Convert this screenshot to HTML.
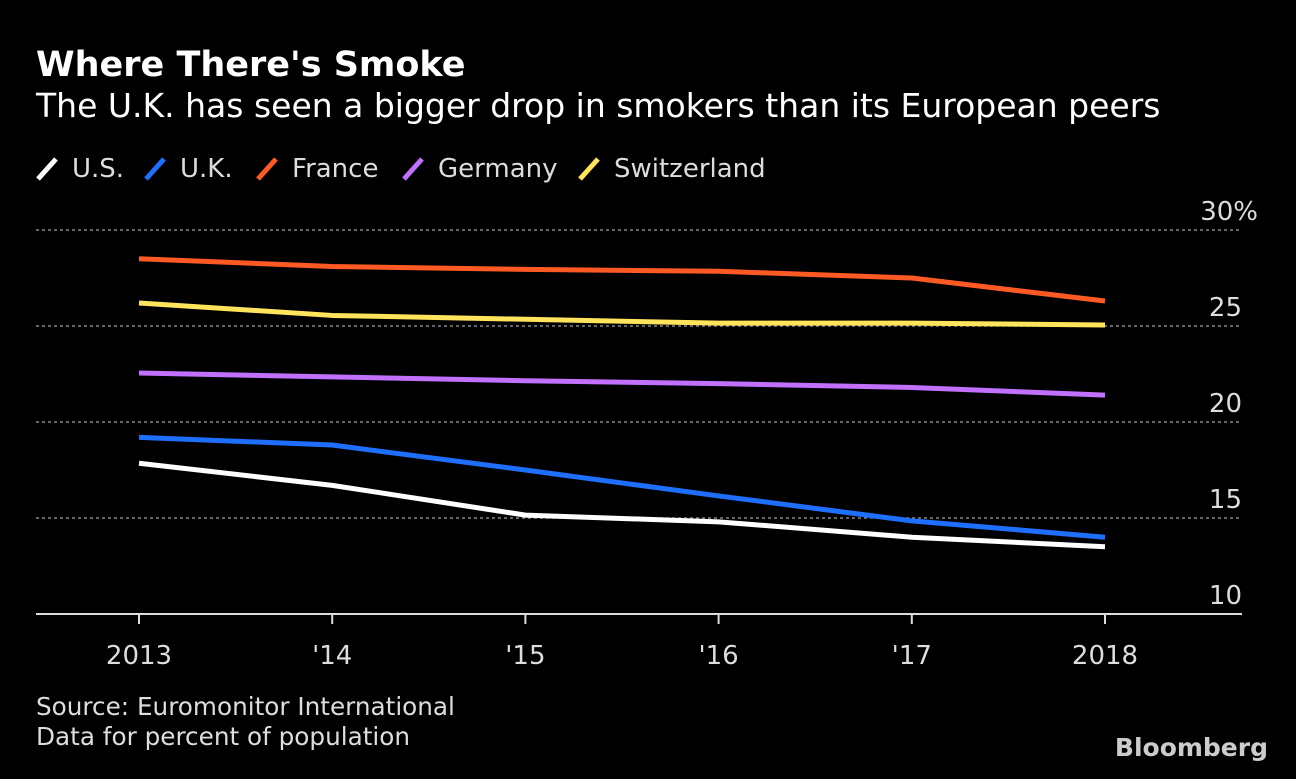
<!DOCTYPE html>
<html><head><meta charset="utf-8"><style>
body{margin:0;background:#000;width:1296px;height:774px;overflow:hidden;font-family:"Liberation Sans",sans-serif;color:#fff}
svg text{font-family:"DejaVu Sans","Liberation Sans",sans-serif}
</style></head><body>
<svg width="1296" height="774">
<text x="36" y="76" font-size="35" font-weight="bold" fill="#fff">Where There's Smoke</text>
<text x="36" y="117" font-size="33" fill="#fff">The U.K. has seen a bigger drop in smokers than its European peers</text>
<g id="legend"></g>
<g id="grid"></g>
<g id="lines"></g>
<g id="xaxis"></g>
<text x="36" y="715" font-size="24.7" fill="#ddd">Source: Euromonitor International</text>
<text x="36" y="745" font-size="24.7" fill="#ddd">Data for percent of population</text>
<text x="1268" y="756" font-size="25" font-weight="bold" fill="#ccc" text-anchor="end" font-family="Liberation Sans">Bloomberg</text>
</svg>
<script>
const years=["2013","'14","'15","'16","'17","2018"];
const yTicks=[10,15,20,25,30];
const seriesNames=["U.S.","U.K.","France","Germany","Switzerland"];
const seriesColors=["#ffffff","#1f6fff","#ff5a23","#c170ff","#ffe45c"];
const us=[17.85,16.7,15.15,14.8,14.0,13.5];
const uk=[19.2,18.8,17.5,16.15,14.85,14.0];
const france=[28.5,28.1,27.95,27.85,27.5,26.3];
const germany=[22.55,22.35,22.15,22.0,21.8,21.4];
const switzerland=[26.2,25.55,25.35,25.15,25.15,25.05];
const allSeries=[us,uk,france,germany,switzerland];
const NS="http://www.w3.org/2000/svg";
const xs=i=>139+i*193.2;
const ys=v=>614-(v-10)*19.2;
function mk(tag,attrs,parent){const e=document.createElementNS(NS,tag);for(const k in attrs)e.setAttribute(k,attrs[k]);parent.appendChild(e);return e;}
const grid=document.getElementById('grid');
yTicks.forEach(t=>{
  if(t>10){const l=mk('line',{x1:36,x2:1242,y1:ys(t),y2:ys(t),stroke:'#888','stroke-width':1.5,'stroke-dasharray':'3,3'},grid);
  
  }
  const tx=mk('text',{x:t===30?1258:1242,y:ys(t)-10,'font-size':26,fill:'#ddd','text-anchor':'end'},grid);
  tx.textContent=t===30?'30%':String(t);
  
  
});
const xa=document.getElementById('xaxis');
const al=mk('line',{x1:36,x2:1242,y1:614,y2:614,stroke:'#ddd','stroke-width':2},xa);


years.forEach((y,i)=>{
  const tk=mk('line',{x1:xs(i),x2:xs(i),y1:614,y2:624,stroke:'#ddd','stroke-width':2},xa);
  
  
  const t=mk('text',{x:xs(i),y:664,'font-size':26,fill:'#ddd','text-anchor':'middle'},xa);
  t.textContent=y;
  
  
});
const lines=document.getElementById('lines');
[4,3,2,0,1].forEach(s=>{
  const d=allSeries[s].map((v,i)=>(i?'L':'M')+xs(i)+','+ys(v)).join(' ');
  const p=mk('path',{d:d,fill:'none',stroke:seriesColors[s],'stroke-width':5,'stroke-linejoin':'round'},lines);
  
  
});
const lg=document.getElementById('legend');
const lx=[38,146,258,404,580];
seriesNames.forEach((n,i)=>{
  const m=mk('line',{x1:lx[i],y1:179,x2:lx[i]+18,y2:159,stroke:seriesColors[i],'stroke-width':5},lg);
  
  
  const t=mk('text',{x:lx[i]+34,y:177,'font-size':26,fill:'#ddd'},lg);
  t.textContent=n;
  
  
});
</script>
</body></html>
